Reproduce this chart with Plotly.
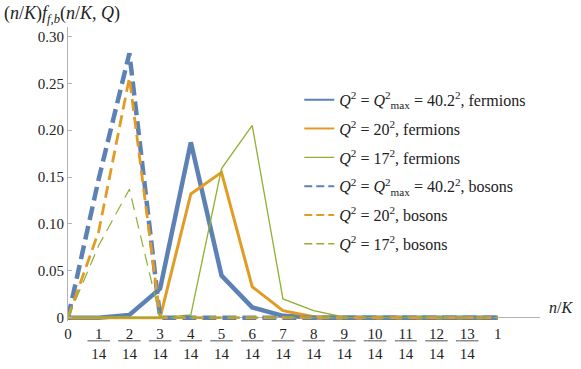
import plotly.graph_objects as go

# x positions n/K with K = 14
n_vals = list(range(15))
K = 14

# fermions
ferm_qmax = [0, 0, 0.003, 0.031, 0.187, 0.045, 0.011, 0.002, 0.0003, 0, 0, 0, 0, 0, 0]
ferm_q20 = [0, 0, 0, 0, 0.132, 0.155, 0.033, 0.0075, 0.001, 0, 0, 0, 0, 0, 0]
ferm_q17 = [0, 0, 0, 0, 0.003, 0.159, 0.205, 0.020, 0.0075, 0.0005, 0, 0, 0, 0, 0]

# bosons
bos_qmax = [0, 0.148, 0.282, 0, 0, 0, 0, 0, 0, 0, 0, 0, 0, 0, 0]
bos_q20 = [0, 0.092, 0.256, 0, 0, 0, 0, 0, 0, 0, 0, 0, 0, 0, 0]
bos_q17 = [0, 0.077, 0.137, 0, 0, 0, 0, 0, 0, 0, 0, 0, 0, 0, 0]

labels = [
    "<i>Q</i><sup>2</sup> = <i>Q</i><sup>2</sup><sub>max</sub> = 40.2<sup>2</sup>, fermions",
    "<i>Q</i><sup>2</sup> = 20<sup>2</sup>, fermions",
    "<i>Q</i><sup>2</sup> = 17<sup>2</sup>, fermions",
    "<i>Q</i><sup>2</sup> = <i>Q</i><sup>2</sup><sub>max</sub> = 40.2<sup>2</sup>, bosons",
    "<i>Q</i><sup>2</sup> = 20<sup>2</sup>, bosons",
    "<i>Q</i><sup>2</sup> = 17<sup>2</sup>, bosons",
]

BLUE = "#5e81b5"
ORANGE = "#e19c24"
GREEN = "#8fb032"
FONT = "Liberation Serif"

x = [n / K for n in n_vals]

# (data, colour, width, dash, legend width, legend dash)
series = [
    (ferm_qmax, BLUE, 4.5, "solid", 2, "solid"),
    (ferm_q20, ORANGE, 3, "solid", 2, "solid"),
    (ferm_q17, GREEN, 1.3, "solid", 1.3, "solid"),
    (bos_qmax, BLUE, 4.5, "14px,6px", 2, "8px,4px"),
    (bos_q20, ORANGE, 2.8, "12px,6px", 2, "8px,4px"),
    (bos_q17, GREEN, 1.2, "12px,7px", 1.3, "8px,4px"),
]

fig = go.Figure()
for ys, col, w, dash, lw, ldash in series:
    fig.add_trace(go.Scatter(x=x, y=ys, mode="lines", showlegend=False,
                             line=dict(color=col, width=w, dash=dash)))

# legend entries with thin sample lines
for i, (ys, col, w, dash, lw, ldash) in enumerate(series):
    fig.add_trace(go.Scatter(x=[None], y=[None], mode="lines", name=labels[i],
                             legendgroup=str(i),
                             line=dict(color=col, width=lw, dash=ldash)))


def frac(n):
    if n == 0:
        return "0"
    if n == K:
        return "1"
    pad = "\u00a0\u00a0" if n < 10 else "\u00a0"
    # underline in grey acts as the fraction bar
    return ("<span style='color:#8a8a8a'><u>" + pad
            + "<span style='color:#222222'>" + str(n) + "</span>"
            + pad + "</u></span><br>" + str(K))


fig.update_layout(
    width=581, height=369,
    margin=dict(l=68, r=41, t=27, b=48),
    paper_bgcolor="white", plot_bgcolor="white",
    font=dict(family=FONT, size=15, color="#222222"),
    showlegend=True,
    legend=dict(x=0.49, y=0.81, xanchor="left", yanchor="top",
                font=dict(family=FONT, size=16), tracegroupgap=5,
                bgcolor="rgba(0,0,0,0)"),
    xaxis=dict(range=[0, 1.098], tickvals=x, ticktext=[frac(n) for n in n_vals],
               showgrid=False, zeroline=False, showline=False, ticks="",
               ticklabelstandoff=2,
               automargin=False, tickfont=dict(family=FONT, size=15)),
    yaxis=dict(range=[-0.0035, 0.31], tickvals=[0, 0.05, 0.1, 0.15, 0.2, 0.25, 0.3],
               ticktext=["0", "0.05", "0.10", "0.15", "0.20", "0.25", "0.30"],
               showgrid=False, zeroline=True, zerolinecolor="#b3b3b3", zerolinewidth=1,
               showline=True, linecolor="#b3b3b3", linewidth=1,
               ticks="inside", ticklen=4, tickcolor="#b3b3b3",
               automargin=False, tickfont=dict(family=FONT, size=15)),
    annotations=[
        dict(text="(<i>n</i>/<i>K</i>)<i>f</i><sub><i>f</i>,<i>b</i></sub>(<i>n</i>/<i>K</i>, <i>Q</i>)",
             xref="paper", yref="paper", x=-0.14, y=1.044, xanchor="left", yanchor="middle",
             showarrow=False, font=dict(family=FONT, size=18)),
        dict(text="<i>n</i>/<i>K</i>", xref="paper", yref="y", x=1.015, y=0,
             xanchor="left", yanchor="bottom", showarrow=False,
             font=dict(family=FONT, size=16)),
    ],
)

# the page body has a default 8px margin; drop it so the figure sits at 0,0
fig.write_html("out.html", config={"displayModeBar": False},
               post_script="document.body.style.margin='0';")
